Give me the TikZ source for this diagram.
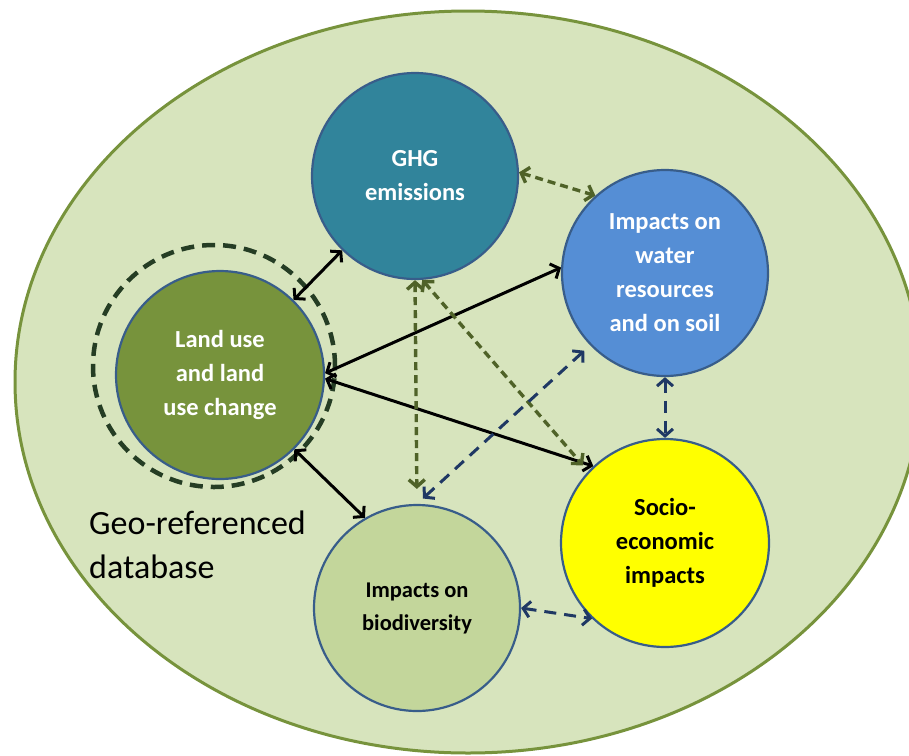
\documentclass[tikz,border=0pt]{standalone}
\usepackage{fontspec}
\setmainfont{Carlito}
\usetikzlibrary{arrows.meta,shapes.geometric}

\definecolor{dbfill}{HTML}{D7E4BD}
\definecolor{dbline}{HTML}{77933C}
\definecolor{ghgfill}{HTML}{31849B}
\definecolor{waterfill}{HTML}{558ED5}
\definecolor{landfill}{HTML}{77933C}
\definecolor{biofill}{HTML}{C3D69B}
\definecolor{sociofill}{HTML}{FFFF00}
\definecolor{ringcol}{HTML}{253D24}
\definecolor{circline}{HTML}{385D8A}
\definecolor{olive}{HTML}{4F6228}
\definecolor{navy}{HTML}{1F3864}

\tikzset{
  topic/.style={circle, draw=circline, line width=2.2pt, minimum size=206pt,
    inner sep=0pt, align=center, font=\fontsize{24.5}{34}\selectfont\bfseries},
  link/.style={line width=3pt, {Straight Barb[length=7pt,width=16pt]}-{Straight Barb[length=7pt,width=16pt]}},
  solidlink/.style={link, black},
  olivelink/.style={link, olive, line width=3.4pt, dash pattern=on 8pt off 5pt},
  navylink/.style={link, navy, dash pattern=on 12pt off 8pt},
}

\begin{document}
\begin{tikzpicture}[x=1pt, y=-1pt]
\useasboundingbox (0,0) rectangle (909,755);
\clip (0,0) rectangle (909,755);

% outer database ellipse
\node[ellipse, fill=dbfill, draw=dbline, line width=3pt,
      minimum width=906pt, minimum height=742pt, inner sep=0pt] (db) at (468,382) {};

% dashed ring around land use
\node[circle, draw=ringcol, line width=4.5pt, dash pattern=on 13pt off 8pt,
      minimum size=242pt, inner sep=0pt] (ring) at (214,366) {};

% topic circles
\node[topic, fill=ghgfill, text=white] (ghg) at (415,176) {GHG\\emissions};
\node[topic, fill=waterfill, text=white] (water) at (665,273) {Impacts on\\water\\resources\\and on soil};
\node[topic, fill=landfill, text=white, minimum size=208pt] (land) at (220,375) {Land use\\and land\\use change};
\node[topic, fill=biofill, text=black, font=\fontsize{22.5}{33}\selectfont\bfseries] (bio) at (417,608) {Impacts on\\biodiversity};
\node[topic, fill=sociofill, text=black, minimum size=208pt] (socio) at (665,543) {Socio-\\economic\\impacts};

% label of the database
\node[anchor=west, align=left, font=\fontsize{34}{44}\selectfont, inner sep=0pt] (dblabel) at (89,545) {Geo-referenced\\database};

% solid links from land use
\draw[solidlink] (land) -- (ghg);
\draw[solidlink] (land.1) -- (water.177);
\draw[solidlink] (land.-2) -- (socio.133);
\draw[solidlink] (land.-45) -- (bio.120);

% olive dashed links from GHG
\draw[olivelink] (ghg.2) -- (water.132);
\draw[olivelink, shorten >=15pt] (ghg.south) -- (bio.north);
\draw[olivelink, shorten >=8pt] (ghg.-86) -- (socio.137);

% navy dashed links
\draw[navylink, shorten <=8pt, shorten >=8pt] (bio.north) -- (water.224);
\draw[navylink] (water.south) -- (socio.north);
\draw[navylink] (bio.east) -- (socio.226);
\end{tikzpicture}
\end{document}
